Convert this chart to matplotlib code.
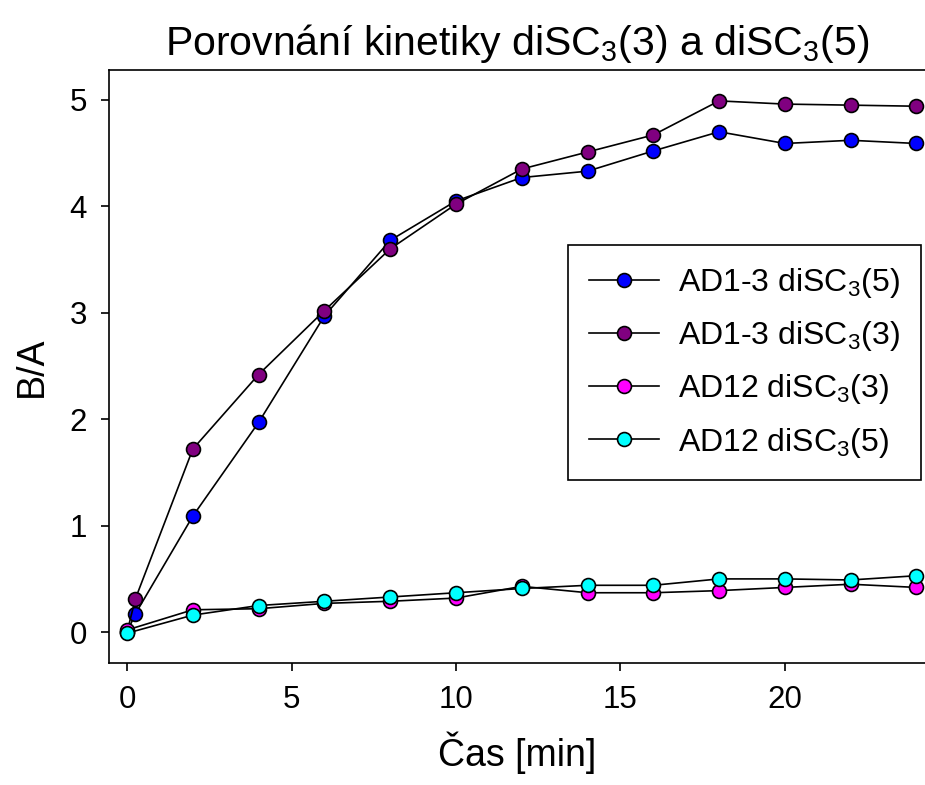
import matplotlib
matplotlib.use('Agg')
import matplotlib.pyplot as plt

plt.rcParams['font.family'] = ['Liberation Sans', 'DejaVu Sans']
plt.rcParams['mathtext.fontset'] = 'custom'
plt.rcParams['mathtext.rm'] = 'Liberation Sans'
plt.rcParams['mathtext.it'] = 'Liberation Sans'
plt.rcParams['mathtext.default'] = 'regular'

# data
t_ad13 = [0, 0.25, 2, 4, 6, 8, 10, 12, 14, 16, 18, 20, 22, 24]
ad13_5 = [0.0, 0.17, 1.09, 1.97, 2.97, 3.68, 4.05, 4.27, 4.33, 4.52, 4.70, 4.59, 4.62, 4.59]
ad13_3 = [0.0, 0.31, 1.72, 2.42, 3.02, 3.60, 4.02, 4.35, 4.51, 4.67, 4.99, 4.96, 4.95, 4.94]
t_ad12 = [0, 2, 4, 6, 8, 10, 12, 14, 16, 18, 20, 22, 24]
ad12_3 = [0.02, 0.21, 0.22, 0.27, 0.29, 0.32, 0.43, 0.37, 0.37, 0.39, 0.42, 0.45, 0.42]
ad12_5 = [-0.01, 0.16, 0.25, 0.29, 0.33, 0.37, 0.41, 0.44, 0.44, 0.50, 0.50, 0.49, 0.53]

labels = ['AD1-3 diSC$_3$(5)', 'AD1-3 diSC$_3$(3)', 'AD12 diSC$_3$(3)', 'AD12 diSC$_3$(5)']
colors = ['#0000ff', '#800080', '#ff00ff', '#00ffff']

fig = plt.figure(figsize=(9.25, 7.85), dpi=100)
ax = fig.add_axes([0.1178, 0.1554, 0.8822, 0.7554])

series = [(t_ad13, ad13_5), (t_ad13, ad13_3), (t_ad12, ad12_3), (t_ad12, ad12_5)]
for (x, y), lab, c in zip(series, labels, colors):
    ax.plot(x, y, '-o', color='black', lw=1.2, marker='o', ms=10,
            mfc=c, mec='black', mew=1.2, label=lab)

ax.set_xlim(-0.55, 24.26)
ax.set_ylim(-0.29, 5.28)
ax.set_xticks([0, 5, 10, 15, 20])
ax.set_yticks([0, 1, 2, 3, 4, 5])
ax.spines['right'].set_visible(False)
for s in ['left', 'bottom', 'top']:
    ax.spines[s].set_linewidth(1.2)
ax.tick_params(direction='out', length=6, width=1.2, labelsize=22.5, pad=10)

ax.set_xlabel('Čas [min]', fontsize=27, labelpad=12)
ax.set_ylabel('B/A', fontsize=27, labelpad=14)
ax.set_title('Porovnání kinetiky diSC$_3$(3) a diSC$_3$(5)', fontsize=29.5, pad=11)

leg = ax.legend(loc='upper right', bbox_to_anchor=(0.995, 0.7045), fontsize=23,
                frameon=True, fancybox=False, edgecolor='black', framealpha=1,
                handlelength=2.2, handletextpad=0.6, borderpad=0.65, labelspacing=0.6,
                borderaxespad=0)
leg.get_frame().set_linewidth(1.2)

fig.savefig('out.png', dpi=100)
